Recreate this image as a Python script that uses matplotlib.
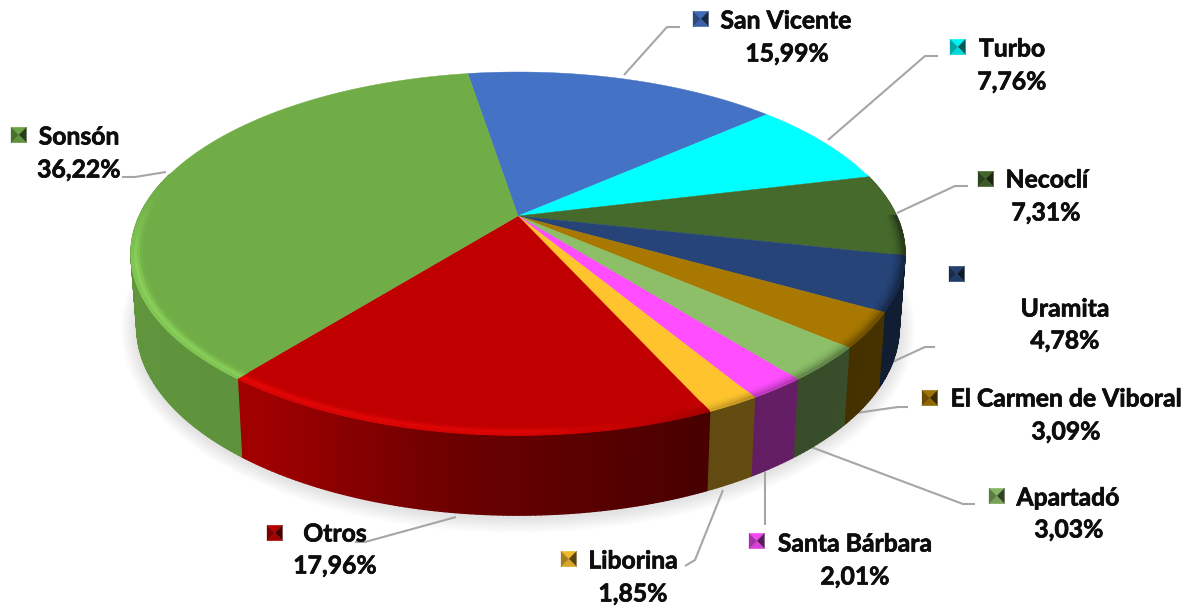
import numpy as np
import matplotlib
matplotlib.use("Agg")
from matplotlib import pyplot as plt
from matplotlib import patheffects
from matplotlib.collections import PolyCollection
from matplotlib.colors import to_rgb

names = ["San Vicente", "Turbo", "Necoclí", "Uramita", "El Carmen de Viboral",
         "Apartadó", "Santa Bárbara", "Liborina", "Otros", "Sonsón"]
values = [15.99, 7.76, 7.31, 4.78, 3.09, 3.03, 2.01, 1.85, 17.96, 36.22]
labels = ["15,99%", "7,76%", "7,31%", "4,78%", "3,09%", "3,03%", "2,01%", "1,85%", "17,96%", "36,22%"]
colors = ["#4472C4", "#00FFFF", "#466A2B", "#264478", "#A87800",
          "#8CBF68", "#FF4DFF", "#FFC42D", "#C00000", "#70AD47"]

# pixel layout of the text: key left, key y, name x, name y, value x, value y
label_pos = [(693, 19, 786, 21, 787, 54),
             (950, 47, 1012, 49, 1012, 82),
             (978, 179, 1047, 180, 1046, 213),
             (949, 274, 1065, 309, 1065, 341),
             (922, 398, 1066, 399, 1066, 432),
             (989, 496, 1068, 498, 1069, 530),
             (749, 541, 855, 544, 855, 577),
             (561, 559, 633, 561, 633, 594),
             (267, 533, 335, 534, 335, 566),
             (11, 135, 79, 137, 79, 170)]
leaders = [[(624, 75), (667, 27), (680, 27)],
           [(828, 140), (925, 56), (938, 56)],
           [(897, 213), (955, 186), (968, 186)],
           [(888, 364), (925, 347), (935, 347)],
           [(856, 413), (898, 407), (908, 407)],
           [(811, 447), (963, 504), (975, 504)],
           [(765, 472), (765, 525)],
           [(723, 490), (695, 560), (685, 566)],
           [(456, 517), (365, 542), (355, 542)],
           [(166, 172), (135, 177), (122, 177)]]

CX, CY = 518, 216
RX, RY, K = 378.6, 173.8, 0.207
START = 99.2

def project(r, ang):
    # small correction of the view angle at the front left of the disc
    ang = ang + 2.0 * np.exp(-((np.mod(ang, 360) - 230) / 25) ** 2)
    u = r * np.cos(np.radians(ang))
    v = r * np.sin(np.radians(ang))
    w = 1 + K * v
    return CX + RX * u / w, CY - RY * v / w

def project_bottom(ang):
    x, y = project(1.0, ang)
    s = np.sin(np.radians(ang))
    return CX + (x - CX) * 0.985, y + 72 + 8 * np.clip(-s, 0, 1)

def wall_shade(ang):
    # ang in the front half, 180 = left, 270 = front, 360 = right
    a = np.mod(ang, 360)
    return np.interp(a, [150, 200, 232, 238, 262, 293, 330, 360],
                     [0.88, 0.86, 0.84, 0.80, 0.56, 0.38, 0.42, 0.42])

def bevel(ang):
    a = np.mod(ang, 360)
    h = np.interp(a, [170, 195, 270, 285, 300, 360, 380], [0.0, 0.24, 0.2, 0.0, -0.3, -0.55, -0.55])
    if 20 < a < 170:
        h = 0.0
    return h

def tint(c, f):
    c = np.array(c)
    if f >= 0:
        return tuple(np.clip(c * (1 + f * 0.7) + 0.12 * f, 0, 1))
    return tuple(c * (1 + f))

fig = plt.figure(figsize=(11.98, 6.07), dpi=100)
ax = fig.add_axes([0, 0, 1, 1])
ax.set_xlim(0, 1198)
ax.set_ylim(607, 0)
ax.axis("off")

# soft shadow below the pie
aa = np.linspace(0, 360, 361)
bx, by = project_bottom(aa)
for i in range(14):
    g = 16 - i * 1.1
    sx = CX + (bx - CX) * (1 + g / 380)
    sy = 330 + (by - 330) * (1 + g / 185) + 2
    ax.fill(sx, sy, color="k", alpha=0.009, lw=0, zorder=1)

# wedge angles, clockwise from START
ends = START - np.cumsum(values) * 3.6
starts = np.r_[START, ends[:-1]]

wall_polys, wall_cols = [], []
band_polys, band_cols = [], []
for a0, a1, col in zip(starts, ends, colors):
    rgb = to_rgb(col)
    n = max(int((a0 - a1) * 1.5), 3)
    grid = np.linspace(a0, a1, n + 1)

    # side wall
    for g0, g1 in zip(grid[:-1], grid[1:]):
        if np.sin(np.radians((g0 + g1) / 2)) > 0.25:
            continue
        x0, y0 = project(1.0, g0)
        x1, y1 = project(1.0, g1)
        bx0, by0 = project_bottom(g0)
        bx1, by1 = project_bottom(g1)
        p = [(x0, y0), (x1, y1), (bx1, by1), (bx0, by0)]
        f = wall_shade((g0 + g1) / 2)
        wall_polys.append(p)
        wall_cols.append(tuple(np.array(rgb) * f))

    # rounded edge on the top face
    rings = np.linspace(0.965, 1.0, 6)
    for g0, g1 in zip(grid[:-1], grid[1:]):
        h = bevel((g0 + g1) / 2)
        if h == 0:
            continue
        for r0, r1 in zip(rings[:-1], rings[1:]):
            rm = (r0 + r1) / 2
            if h > 0:
                amt = h * np.exp(-((rm - 0.99) / 0.011) ** 2)
            else:
                amt = h * ((rm - 0.965) / 0.035) ** 2
            p = [project(r0, g0), project(r0, g1), project(r1, g1), project(r1, g0)]
            band_polys.append(p)
            band_cols.append(tint(rgb, amt))

ax.add_collection(PolyCollection(wall_polys, facecolors=wall_cols, edgecolors=wall_cols, linewidths=1.0, zorder=2))

# top face
for a0, a1, col in zip(starts, ends, colors):
    grid = np.linspace(a0, a1, 200)
    x, y = project(1.0, grid)
    ax.fill(np.r_[CX, x], np.r_[CY, y], color=col, lw=0.3, zorder=3)
ax.add_collection(PolyCollection(band_polys, facecolors=band_cols, edgecolors=band_cols, linewidths=0.8, zorder=4))

# leader lines
for pts in leaders:
    ax.plot([p[0] for p in pts], [p[1] for p in pts], color="#A6A6A6", lw=1.5, zorder=1.5, solid_capstyle="butt")

# labels with bevelled keys
heavier = [patheffects.withStroke(linewidth=0.5, foreground="#0d0d0d")]
for name, lab, col, pos in zip(names, labels, colors, label_pos):
    kx, ky, nx, ny, vx, vy = pos
    c = np.array(to_rgb(col))
    k = 15.5
    x0, x1, xm = kx, kx + k, kx + k / 2
    y0, y1, ym = ky - k / 2, ky + k / 2, ky
    tri = [[(x0, y0), (x1, y0), (xm, ym)], [(x1, y0), (x1, y1), (xm, ym)],
           [(x1, y1), (x0, y1), (xm, ym)], [(x0, y1), (x0, y0), (xm, ym)]]
    kc = [tuple(c * 0.95), tuple(c * 0.35), tuple(c * 0.85), tuple(c * 0.65)]
    ax.add_collection(PolyCollection(tri, facecolors=kc, edgecolors=kc, linewidths=0.2, zorder=5))
    ax.text(nx, ny, name, ha="center", va="center", fontsize=17.8, fontweight="bold",
            family="Lato", color="#0d0d0d", zorder=6, path_effects=heavier)
    ax.text(vx, vy, lab, ha="center", va="center", fontsize=17.8, fontweight="bold",
            family="Lato", color="#0d0d0d", zorder=6, path_effects=heavier)

fig.savefig("out.png", dpi=100)
